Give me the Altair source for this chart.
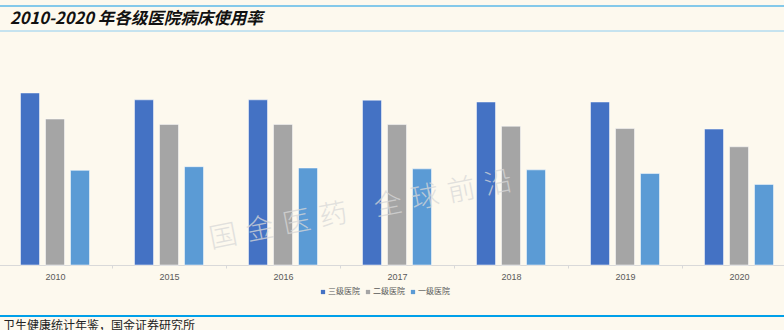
import altair as alt
import pandas as pd

years = ["2010", "2015", "2016", "2017", "2018", "2019", "2020"]
levels = ["三级医院", "二级医院", "一级医院"]
tertiary = [102.9, 98.8, 98.8, 98.6, 97.5, 97.5, 81.3]
secondary = [87.3, 84.1, 84.1, 84.0, 83.0, 81.6, 70.7]
primary = [56.6, 58.8, 58.0, 57.5, 56.9, 54.7, 48.2]
colors = ["#4472C4", "#A5A5A5", "#5B9BD5"]

title_text = "2010-2020 年各级医院病床使用率"
source_text = "卫生健康统计年鉴，国金证券研究所"
watermark_text = "国\u2004金\u2004医\u2004药\u3000全\u2004球\u2004前\u2004沿"

rows = []
for lvl, vals in zip(levels, [tertiary, secondary, primary]):
    for y, v in zip(years, vals):
        rows.append({"year": y, "level": lvl, "rate": v})
df = pd.DataFrame(rows)

bg = "#FDF9EE"

bars = alt.Chart(df).mark_bar(stroke="#ffffff", strokeWidth=1, strokeOpacity=0.5).encode(
    x=alt.X("year:N", sort=years,
            scale=alt.Scale(range=[-2, 796], paddingInner=0, paddingOuter=0),
            axis=alt.Axis(title=None, labelAngle=0, labelFontSize=9, labelColor="#595959",
                          labelFont="Liberation Sans", domainColor="#D9D9D9", tickColor="#D9D9D9",
                          tickBand="extent", tickSize=3, labelPadding=4, grid=False)),
    xOffset=alt.XOffset("level:N", sort=levels,
                        scale=alt.Scale(paddingInner=0.24, paddingOuter=0.9)),
    y=alt.Y("rate:Q", scale=alt.Scale(domain=[0, 158.5], nice=False, zero=True), axis=None),
    color=alt.Color("level:N", sort=levels,
                    scale=alt.Scale(domain=levels, range=colors),
                    legend=alt.Legend(title=None, orient="none", legendX=319, legendY=288,
                                      direction="horizontal", symbolType="square", symbolSize=18,
                                      symbolStrokeWidth=0, labelFontSize=8, labelColor="#595959",
                                      labelFont="Noto Sans CJK SC", labelOffset=1, columnPadding=4)),
)

def text_layer(txt, **kw):
    enc = {k: v for k, v in kw.items() if k in ("x", "y")}
    mk = {k: v for k, v in kw.items() if k not in ("x", "y")}
    return alt.Chart(pd.DataFrame({"t": [txt]})).mark_text(**mk).encode(
        text="t:N", x=alt.value(enc["x"]), y=alt.value(enc["y"]))

title = text_layer(title_text, x=10, y=19, align="left", baseline="middle", fontSize=16.5,
                   fontWeight="bold", fontStyle="italic", font="Noto Sans CJK SC", color="#111111")
source = text_layer(source_text, x=3, y=326, align="left", baseline="middle", fontSize=12,
                    font="Noto Sans CJK SC", color="#222222")
watermark = text_layer(watermark_text, x=361, y=211, align="center", baseline="middle", fontSize=28,
                       angle=349, font="Noto Sans CJK SC", fontWeight=300,
                       color="#D8D8D8", opacity=0.75)

line_df = pd.DataFrame({"k": [0]})
def hline(y, color, w):
    return alt.Chart(line_df).mark_rule(color=color, strokeWidth=w).encode(
        x=alt.value(0), x2=alt.value(784), y=alt.value(y))

lines = [hline(6, "#5BB8E8", 1.5), hline(31, "#8ECDF0", 1), hline(316, "#00A0E9", 2)]

chart = alt.layer(bars, watermark, title, source, *lines).properties(
    width=784, height=265,
    autosize=alt.AutoSizeParams(type="none"),
    padding={"left": 0, "top": 0, "right": 0, "bottom": 65},
    background=bg,
).configure_view(stroke=None)

chart.save("out.html", embed_options={"renderer": "svg", "actions": False})
